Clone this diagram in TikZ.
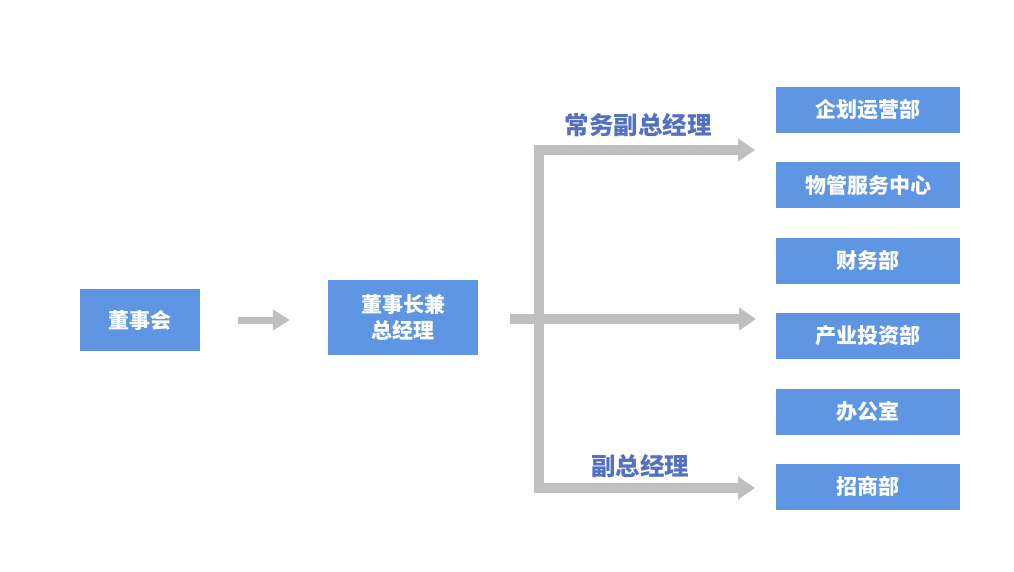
\documentclass[tikz,border=0pt]{standalone}
\usepackage{fontspec}
\usepackage{tikz}
\usetikzlibrary{arrows.meta}
\newfontfamily\cjk{Noto Sans CJK SC}
\definecolor{boxblue}{RGB}{94,150,227}
\definecolor{labelblue}{RGB}{84,112,192}
\definecolor{bargray}{RGB}{191,191,191}

\begin{document}
\begin{tikzpicture}[x=1pt,y=-1pt,
    deptbox/.style={fill=boxblue,minimum width=184pt,minimum height=46pt,inner sep=0pt,
        text=white,font=\cjk\bfseries\fontsize{21}{26}\selectfont,align=center},
    bar/.style={draw=bargray,line width=10pt,line join=miter,
        -{Triangle[length=17pt,width=22pt]}},
    rolelabel/.style={text=labelblue,font=\cjk\bfseries\fontsize{24.5}{28}\selectfont}]
    \useasboundingbox (0,0) rectangle (1014,571);
    % left side
    \node [deptbox,minimum width=120pt,minimum height=62pt] (board) at (140,320) {董事会};
    \node [deptbox,minimum width=150pt,minimum height=75pt] (ceo) at (403,317.5) {董事长兼\\总经理};
    % departments
    \node [deptbox] (plan) at (868,110) {企划运营部};
    \node [deptbox] (property) at (868,185) {物管服务中心};
    \node [deptbox] (finance) at (868,260.5) {财务部};
    \node [deptbox] (invest) at (868,335.5) {产业投资部};
    \node [deptbox] (office) at (868,411.5) {办公室};
    \node [deptbox] (merchant) at (868,486.5) {招商部};
    % arrow ends
    \coordinate (topend) at (755,150);
    \coordinate (midend) at (756,319);
    \coordinate (lowend) at (755,488);
    \coordinate (split) at (539,319);
    \draw [bar,line width=7pt,-{Triangle[length=17pt,width=20pt]}]
        ([xshift=38pt,yshift=0pt]board.east) -- ([xshift=-38pt]ceo.west |- board.east);
    \draw [bar,{Triangle[length=17pt,width=22pt]}-{Triangle[length=17pt,width=22pt]}]
        (topend) -| (split) |- (lowend);
    \draw [bar] ([xshift=32pt]ceo.east |- split) -- (midend);
    % role labels
    \node [rolelabel] (deputy1) at (638,125) {常务副总经理};
    \node [rolelabel] (deputy2) at (640,466) {副总经理};
\end{tikzpicture}
\end{document}
